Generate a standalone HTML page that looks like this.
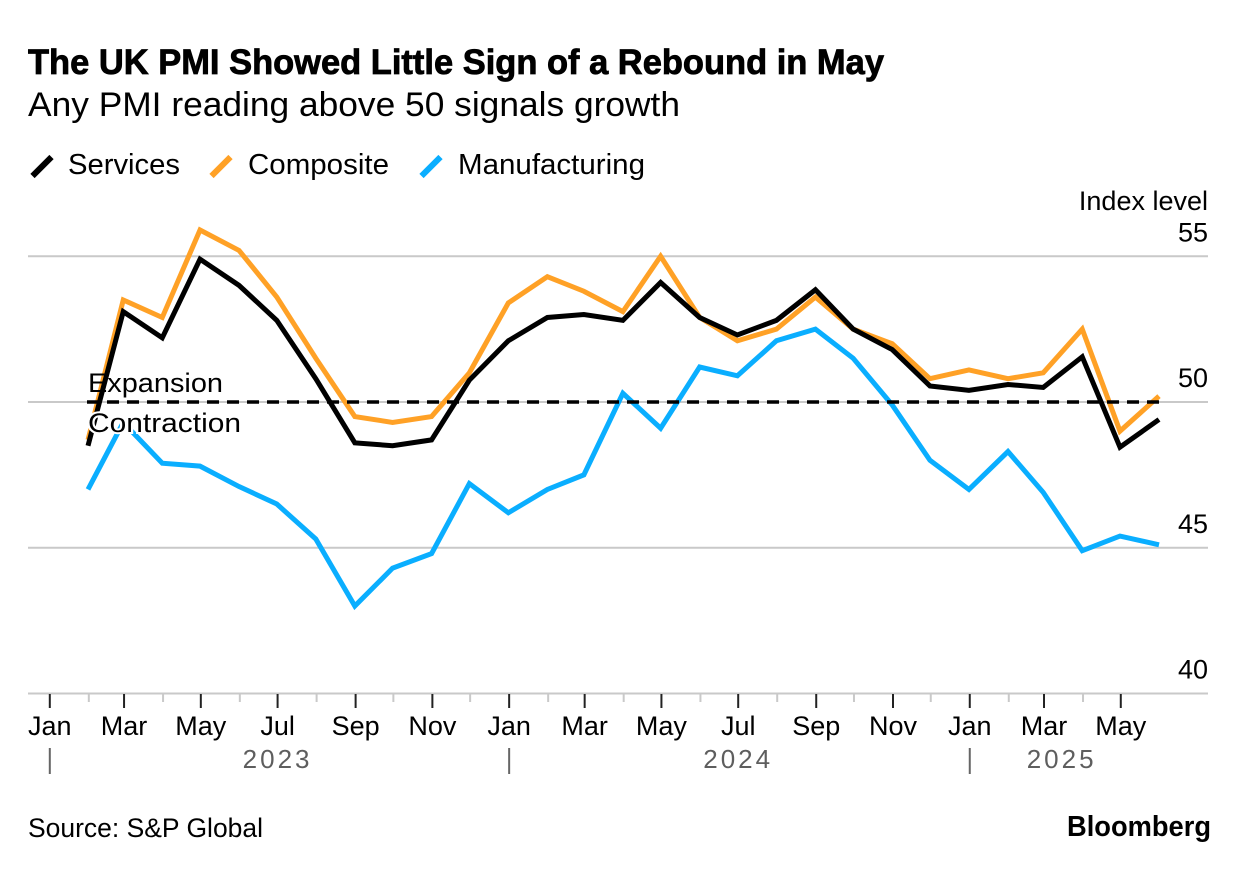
<!DOCTYPE html>
<html lang="en">
<head>
<meta charset="utf-8">
<title>The UK PMI Showed Little Sign of a Rebound in May</title>
<style>
html,body{margin:0;padding:0;background:#fff;width:1240px;height:870px;overflow:hidden}
svg{display:block}
text{font-family:"Liberation Sans",sans-serif;fill:#000}
</style>
</head>
<body>
<svg id="chart" width="1240" height="870" viewBox="0 0 1240 870" xmlns="http://www.w3.org/2000/svg">
  <text x="28" y="74" font-size="35" font-weight="700" stroke="#000" stroke-width="0.8" textLength="856" lengthAdjust="spacingAndGlyphs">The UK PMI Showed Little Sign of a Rebound in May</text>
  <text x="28" y="116" font-size="34" textLength="652" lengthAdjust="spacingAndGlyphs">Any PMI reading above 50 signals growth</text>
  <g>
    <g>
      <line x1="32.5" y1="176" x2="51.5" y2="157" stroke="#000" stroke-width="6"/>
      <text x="68" y="174" font-size="29" textLength="112" lengthAdjust="spacingAndGlyphs">Services</text>
    </g>
    <g>
      <line x1="211.5" y1="176" x2="230.5" y2="157" stroke="#ffa126" stroke-width="6"/>
      <text x="248" y="174" font-size="29" textLength="141" lengthAdjust="spacingAndGlyphs">Composite</text>
    </g>
    <g>
      <line x1="421.5" y1="176" x2="440.5" y2="157" stroke="#0aaeff" stroke-width="6"/>
      <text x="458" y="174" font-size="29" textLength="187" lengthAdjust="spacingAndGlyphs">Manufacturing</text>
    </g>
  </g>
  <text x="1208" y="210" font-size="27" text-anchor="end">Index level</text>
  <g id="grid"></g>
  <g id="xaxis"></g>
  <g id="series"></g>
  <g id="threshold"></g>
  <text x="28" y="837" font-size="27" textLength="235" lengthAdjust="spacingAndGlyphs">Source: S&amp;P Global</text>
  <text x="1067" y="836" font-size="29" font-weight="700" textLength="144" lengthAdjust="spacingAndGlyphs">Bloomberg</text>
</svg>
<script>
const yTicks = [55, 50, 45, 40];
const tickYear = [2023,2023,2023,2023,2023,2023,2023,2023,2023,2023,2023,2023,2024,2024,2024,2024,2024,2024,2024,2024,2024,2024,2024,2024,2025,2025,2025,2025,2025];
const tickMonth = [1,2,3,4,5,6,7,8,9,10,11,12,1,2,3,4,5,6,7,8,9,10,11,12,1,2,3,4,5];
const monthNames = ["Jan","Feb","Mar","Apr","May","Jun","Jul","Aug","Sep","Oct","Nov","Dec"];
const yearLabels = ["2023","2024","2025"];
const yearLabelCenters = [["2023-07-01"],["2024-07-01"],["2025-03-15"]];
const dataStartYear = 2023;
const dataStartMonth = 2;
const threshold = 50;
const services = [48.5,53.1,52.2,54.9,54.0,52.8,50.8,48.6,48.5,48.7,50.75,52.1,52.9,53.0,52.8,54.1,52.9,52.3,52.8,53.85,52.5,51.8,50.55,50.4,50.6,50.5,51.55,48.45,49.4];
const composite = [48.7,53.5,52.9,55.9,55.2,53.6,51.5,49.5,49.3,49.5,51.0,53.4,54.3,53.8,53.1,55.0,52.9,52.1,52.5,53.6,52.5,52.0,50.8,51.1,50.8,51.0,52.5,49.0,50.2];
const manufacturing = [47.0,49.3,47.9,47.8,47.1,46.5,45.3,43.0,44.3,44.8,47.2,46.2,47.0,47.5,50.3,49.1,51.2,50.9,52.1,52.5,51.5,49.9,48.0,47.0,48.3,46.9,44.9,45.4,45.1];

const NS = "http://www.w3.org/2000/svg";
const T0 = Date.UTC(2023, 0, 1);
function xDate(ms) { return 49.8 + (ms - T0) / 86400000 * 1.2585; }
function xMonth(y, m) { return xDate(Date.UTC(y, m - 1, 1)); }
function yVal(v) { return 402 - (v - 50) * 29.15; }
function mk(tag, attrs, parent) {
  const el = document.createElementNS(NS, tag);
  for (const k in attrs) el.setAttribute(k, attrs[k]);
  parent.appendChild(el);
  return el;
}

const grid = document.getElementById("grid");
yTicks.forEach(function (v) {
  const line = mk("line", {x1: 28, x2: 1208, y1: yVal(v), y2: yVal(v), stroke: "#c9c9c9", "stroke-width": 2}, grid);
  
  
  const label = mk("text", {x: 1208, y: yVal(v) - 15, "font-size": 27, "text-anchor": "end"}, grid);
  label.textContent = String(v);
  
  
});

const xaxis = document.getElementById("xaxis");
tickYear.forEach(function (yr, i) {
  const m = tickMonth[i];
  const x = xMonth(yr, m);
  const major = m % 2 === 1;
  const tick = mk("line", {x1: x, x2: x, y1: 694, y2: major ? 708 : 702, stroke: major ? "#222" : "#c9c9c9", "stroke-width": 2}, xaxis);
  
  
  if (major) {
    const t = mk("text", {x: x, y: 735, "font-size": 27, "text-anchor": "middle"}, xaxis);
    t.textContent = monthNames[m - 1];
    
    
  }
  if (m === 1) {
    const sep = mk("line", {x1: x, x2: x, y1: 748, y2: 774, stroke: "#666", "stroke-width": 2}, xaxis);
    
    
  }
});
yearLabels.forEach(function (label, i) {
  const x = xDate(Date.parse(yearLabelCenters[i][0] + "T00:00:00Z"));
  const t = mk("text", {x: x, y: 768, "font-size": 26, "text-anchor": "middle", "letter-spacing": 3, style: "fill:#5e5e5e"}, xaxis);
  t.textContent = label;
  
  
});

function seriesPoints(values) {
  return values.map(function (v, i) {
    const x = xDate(Date.UTC(dataStartYear, dataStartMonth - 1 + i, 1)) - 0.8;
    return x.toFixed(2) + "," + yVal(v).toFixed(2);
  }).join(" ");
}
const seriesG = document.getElementById("series");
const manufacturingLine = mk("polyline", {points: seriesPoints(manufacturing), fill: "none", stroke: "#0aaeff", "stroke-width": 5, "stroke-linejoin": "miter"}, seriesG);


const compositeLine = mk("polyline", {points: seriesPoints(composite), fill: "none", stroke: "#ffa126", "stroke-width": 5, "stroke-linejoin": "miter"}, seriesG);


const servicesLine = mk("polyline", {points: seriesPoints(services), fill: "none", stroke: "#000", "stroke-width": 5, "stroke-linejoin": "miter"}, seriesG);



const th = document.getElementById("threshold");
const dash = mk("line", {x1: 87, x2: 1160, y1: yVal(threshold), y2: yVal(threshold), stroke: "#000", "stroke-width": 3.5, "stroke-dasharray": "12 8"}, th);


const exp = mk("text", {x: 88, y: 392, "font-size": 27, textLength: 135, lengthAdjust: "spacingAndGlyphs"}, th);
exp.textContent = "Expansion";


const con = mk("text", {x: 88, y: 432, "font-size": 27, textLength: 153, lengthAdjust: "spacingAndGlyphs", stroke: "#fff", "stroke-width": 4, "paint-order": "stroke"}, th);
con.textContent = "Contraction";


</script>
</body>
</html>
